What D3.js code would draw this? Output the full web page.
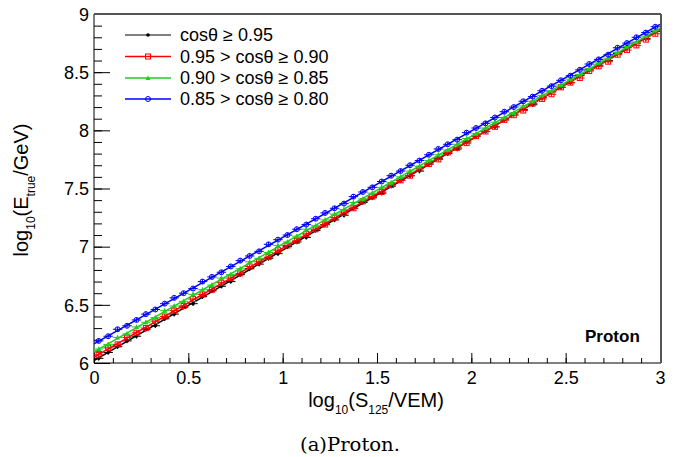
<!DOCTYPE html>
<html>
<head>
<meta charset="utf-8">
<script src="https://cdn.jsdelivr.net/npm/d3@7"></script>
<style>
  body { margin: 0; background: #fff; }
  text { font-family: "Liberation Sans", Arial, sans-serif; }
</style>
</head>
<body>
<svg id="chart" width="680" height="457"></svg>
<script>
// bin centres in log10(S125/VEM)
const xBins = [0.025, 0.075, 0.125, 0.175, 0.225, 0.275, 0.325, 0.375, 0.425, 0.475,
  0.525, 0.575, 0.625, 0.675, 0.725, 0.775, 0.825, 0.875, 0.925, 0.975,
  1.025, 1.075, 1.125, 1.175, 1.225, 1.275, 1.325, 1.375, 1.425, 1.475,
  1.525, 1.575, 1.625, 1.675, 1.725, 1.775, 1.825, 1.875, 1.925, 1.975,
  2.025, 2.075, 2.125, 2.175, 2.225, 2.275, 2.325, 2.375, 2.425, 2.475,
  2.525, 2.575, 2.625, 2.675, 2.725, 2.775, 2.825, 2.875, 2.925, 2.975];

// log10(Etrue/GeV) per zenith band
const yBand1 = [6.04, 6.09, 6.14, 6.19, 6.23, 6.29, 6.32, 6.38, 6.42, 6.48, 6.51, 6.57, 6.62, 6.66, 6.70,
  6.76, 6.81, 6.85, 6.90, 6.94, 7.00, 7.04, 7.08, 7.14, 7.19, 7.23, 7.27, 7.33, 7.38, 7.42,
  7.46, 7.52, 7.57, 7.61, 7.65, 7.71, 7.76, 7.80, 7.84, 7.90, 7.95, 7.99, 8.03, 8.09, 8.14,
  8.18, 8.22, 8.28, 8.33, 8.37, 8.41, 8.47, 8.52, 8.56, 8.60, 8.66, 8.71, 8.75, 8.79, 8.85];
const yBand2 = [6.07, 6.13, 6.16, 6.22, 6.26, 6.30, 6.36, 6.40, 6.45, 6.49, 6.55, 6.59, 6.63, 6.69, 6.73,
  6.77, 6.83, 6.87, 6.91, 6.97, 7.01, 7.05, 7.11, 7.15, 7.19, 7.25, 7.29, 7.33, 7.39, 7.43,
  7.47, 7.53, 7.57, 7.61, 7.67, 7.71, 7.75, 7.81, 7.85, 7.89, 7.95, 7.99, 8.03, 8.09, 8.13,
  8.17, 8.23, 8.27, 8.31, 8.37, 8.41, 8.45, 8.51, 8.55, 8.59, 8.65, 8.69, 8.73, 8.78, 8.83];
const yBand3 = [6.12, 6.16, 6.22, 6.25, 6.31, 6.35, 6.39, 6.45, 6.49, 6.53, 6.59, 6.63, 6.67, 6.73, 6.76,
  6.81, 6.87, 6.90, 6.95, 7.01, 7.04, 7.09, 7.15, 7.18, 7.23, 7.28, 7.32, 7.38, 7.41, 7.46,
  7.51, 7.55, 7.60, 7.65, 7.69, 7.74, 7.79, 7.83, 7.88, 7.93, 7.97, 8.02, 8.07, 8.11, 8.15,
  8.21, 8.25, 8.30, 8.34, 8.39, 8.44, 8.48, 8.53, 8.58, 8.62, 8.67, 8.72, 8.76, 8.81, 8.86];
const yBand4 = [6.19, 6.23, 6.29, 6.32, 6.37, 6.42, 6.46, 6.51, 6.56, 6.60, 6.64, 6.70, 6.74, 6.78, 6.83,
  6.88, 6.92, 6.96, 7.02, 7.06, 7.10, 7.15, 7.19, 7.24, 7.29, 7.33, 7.37, 7.43, 7.47, 7.51,
  7.56, 7.61, 7.65, 7.70, 7.74, 7.79, 7.84, 7.88, 7.92, 7.98, 8.02, 8.06, 8.11, 8.16, 8.20,
  8.25, 8.29, 8.34, 8.38, 8.43, 8.47, 8.52, 8.57, 8.61, 8.65, 8.71, 8.75, 8.80, 8.84, 8.89];

// linear fit results (intercept, slope) per band
const fitIntercepts = [6.02, 6.05, 6.095, 6.165];
const fitSlopes = [0.95, 0.937, 0.927, 0.915];

const bandLabels = ["cosθ ≥ 0.95", "0.95 > cosθ ≥ 0.90", "0.90 > cosθ ≥ 0.85", "0.85 > cosθ ≥ 0.80"];
const bandColors = ["#000000", "#ff0000", "#22cc22", "#0000ff"];
const bandMarkers = ["dot", "openSquare", "triangle", "openCircle"];

const xMajorTicks = [0, 0.5, 1, 1.5, 2, 2.5, 3];
const yMajorTicks = [6, 6.5, 7, 7.5, 8, 8.5, 9];
const xMinorTicks = d3.range(0, 30.5, 1).map(d => d / 10);
const yMinorTicks = d3.range(60, 90.5, 1).map(d => d / 10);

const binHalfWidth = 0.025;
const yErr = 0.02;

// frame in pixels
const frame = { left: 94, right: 660, top: 14, bottom: 363 };

const x = d3.scaleLinear().domain([0, 3]).range([frame.left, frame.right]);
const y = d3.scaleLinear().domain([6, 9]).range([frame.bottom, frame.top]);

const svg = d3.select("#chart");

svg.append("defs").append("clipPath").attr("id", "plot-clip")
  .append("rect")
  .attr("x", frame.left).attr("y", frame.top)
  .attr("width", frame.right - frame.left).attr("height", frame.bottom - frame.top);

// axes
const tickFont = "18px 'Liberation Sans', Arial, sans-serif";

function styleAxis(g) {
  g.select(".domain").remove();
  g.selectAll(".tick line").attr("stroke", "#000").attr("stroke-width", 1);
  g.selectAll(".tick text").style("font", tickFont).attr("fill", "#000");
}

svg.append("g")
  .attr("transform", `translate(0, ${frame.bottom})`)
  .call(d3.axisTop(x).tickValues(xMinorTicks).tickSize(5).tickFormat(""))
  .call(styleAxis);
svg.append("g")
  .attr("transform", `translate(0, ${frame.bottom})`)
  .call(d3.axisTop(x).tickValues(xMajorTicks).tickSize(10).tickFormat(d3.format("")))
  .call(styleAxis)
  .call(g => g.selectAll(".tick text").attr("y", 21).attr("dy", 0));

svg.append("g")
  .attr("transform", `translate(${frame.left}, 0)`)
  .call(d3.axisRight(y).tickValues(yMinorTicks).tickSize(8).tickFormat(""))
  .call(styleAxis);
svg.append("g")
  .attr("transform", `translate(${frame.left}, 0)`)
  .call(d3.axisRight(y).tickValues(yMajorTicks).tickSize(16).tickFormat(d3.format("")))
  .call(styleAxis)
  .call(g => g.selectAll(".tick text").attr("x", -5).attr("text-anchor", "end").attr("dy", "0.35em"));

// frame
svg.append("line").attr("x1", frame.left).attr("x2", frame.right + 1)
  .attr("y1", frame.bottom).attr("y2", frame.bottom).attr("stroke", "#000");
svg.append("line").attr("x1", frame.left).attr("x2", frame.left)
  .attr("y1", frame.top).attr("y2", frame.bottom).attr("stroke", "#000");
svg.append("line").attr("x1", frame.left).attr("x2", frame.right + 1)
  .attr("y1", frame.top).attr("y2", frame.top).attr("stroke", "#555").attr("stroke-width", 2);
svg.append("line").attr("x1", frame.right + 1).attr("x2", frame.right + 1)
  .attr("y1", frame.top).attr("y2", frame.bottom).attr("stroke", "#555").attr("stroke-width", 2);

// axis titles
const xTitle = svg.append("text")
  .attr("x", 376).attr("y", 407)
  .attr("text-anchor", "middle")
  .style("font-size", "20px");
xTitle.append("tspan").text("log");
xTitle.append("tspan").attr("dy", 7).style("font-size", "12px").text("10");
xTitle.append("tspan").attr("dy", -7).text("(S");
xTitle.append("tspan").attr("dy", 7).style("font-size", "12px").text("125");
xTitle.append("tspan").attr("dy", -7).text("/VEM)");

const yTitle = svg.append("text")
  .attr("transform", "translate(28, 190) rotate(-90)")
  .attr("text-anchor", "middle")
  .style("font-size", "20px");
yTitle.append("tspan").text("log");
yTitle.append("tspan").attr("dy", 7).style("font-size", "12px").text("10");
yTitle.append("tspan").attr("dy", -7).text("(E");
yTitle.append("tspan").attr("dy", 7).style("font-size", "12px").text("true");
yTitle.append("tspan").attr("dy", -7).text("/GeV)");

// markers
function drawMarker(g, type, cx, cy, color) {
  if (type === "dot") {
    g.append("circle").attr("cx", cx).attr("cy", cy).attr("r", 1.8).attr("fill", color);
  } else if (type === "openSquare") {
    g.append("rect").attr("x", cx - 2.5).attr("y", cy - 2.5).attr("width", 5).attr("height", 5)
      .attr("fill", "none").attr("stroke", color).attr("stroke-width", 1);
  } else if (type === "triangle") {
    g.append("path").attr("d", `M${cx},${cy - 2.5}L${cx + 2.5},${cy + 2}L${cx - 2.5},${cy + 2}Z`)
      .attr("fill", color);
  } else {
    g.append("circle").attr("cx", cx).attr("cy", cy).attr("r", 2.5)
      .attr("fill", "none").attr("stroke", color).attr("stroke-width", 1);
  }
}

const bandValues = [yBand1, yBand2, yBand3, yBand4];
const plot = svg.append("g").attr("clip-path", "url(#plot-clip)");

bandValues.forEach((vals, k) => {
  const color = bandColors[k];
  const g = plot.append("g");

  // fit line
  g.append("line")
    .attr("x1", x(0)).attr("y1", y(fitIntercepts[k]))
    .attr("x2", x(3)).attr("y2", y(fitIntercepts[k] + 3 * fitSlopes[k]))
    .attr("stroke", color).attr("stroke-width", 1.5);

  vals.forEach((v, i) => {
    const cx = x(xBins[i]);
    const cy = y(v);
    g.append("line")
      .attr("x1", x(xBins[i] - binHalfWidth)).attr("x2", x(xBins[i] + binHalfWidth))
      .attr("y1", cy).attr("y2", cy).attr("stroke", color).attr("stroke-width", 1);
    g.append("line")
      .attr("x1", cx).attr("x2", cx)
      .attr("y1", y(v - yErr)).attr("y2", y(v + yErr)).attr("stroke", color).attr("stroke-width", 1);
    drawMarker(g, bandMarkers[k], cx, cy, color);
  });
});

// legend
const legendRowY = [35, 56.5, 78, 99];
bandLabels.forEach((label, k) => {
  const ly = legendRowY[k];
  const g = svg.append("g");
  g.append("line").attr("x1", 125).attr("x2", 171).attr("y1", ly).attr("y2", ly)
    .attr("stroke", bandColors[k] === "#000000" ? "#555" : bandColors[k]).attr("stroke-width", 1.5);
  drawMarker(g, bandMarkers[k], 148, ly, bandColors[k]);
  g.append("text").attr("x", 180).attr("y", ly).attr("dy", "0.35em")
    .style("font-size", "18px").text(label);
});

// particle label
svg.append("text").attr("x", 585).attr("y", 342)
  .style("font-size", "17px").style("font-weight", "bold").text("Proton");

// caption
svg.append("text").attr("x", 350).attr("y", 451)
  .attr("text-anchor", "middle")
  .attr("textLength", 100).attr("lengthAdjust", "spacingAndGlyphs")
  .style("font-family", "'DejaVu Serif', serif").style("font-size", "18px")
  .text("(a)Proton.");
</script>
</body>
</html>
